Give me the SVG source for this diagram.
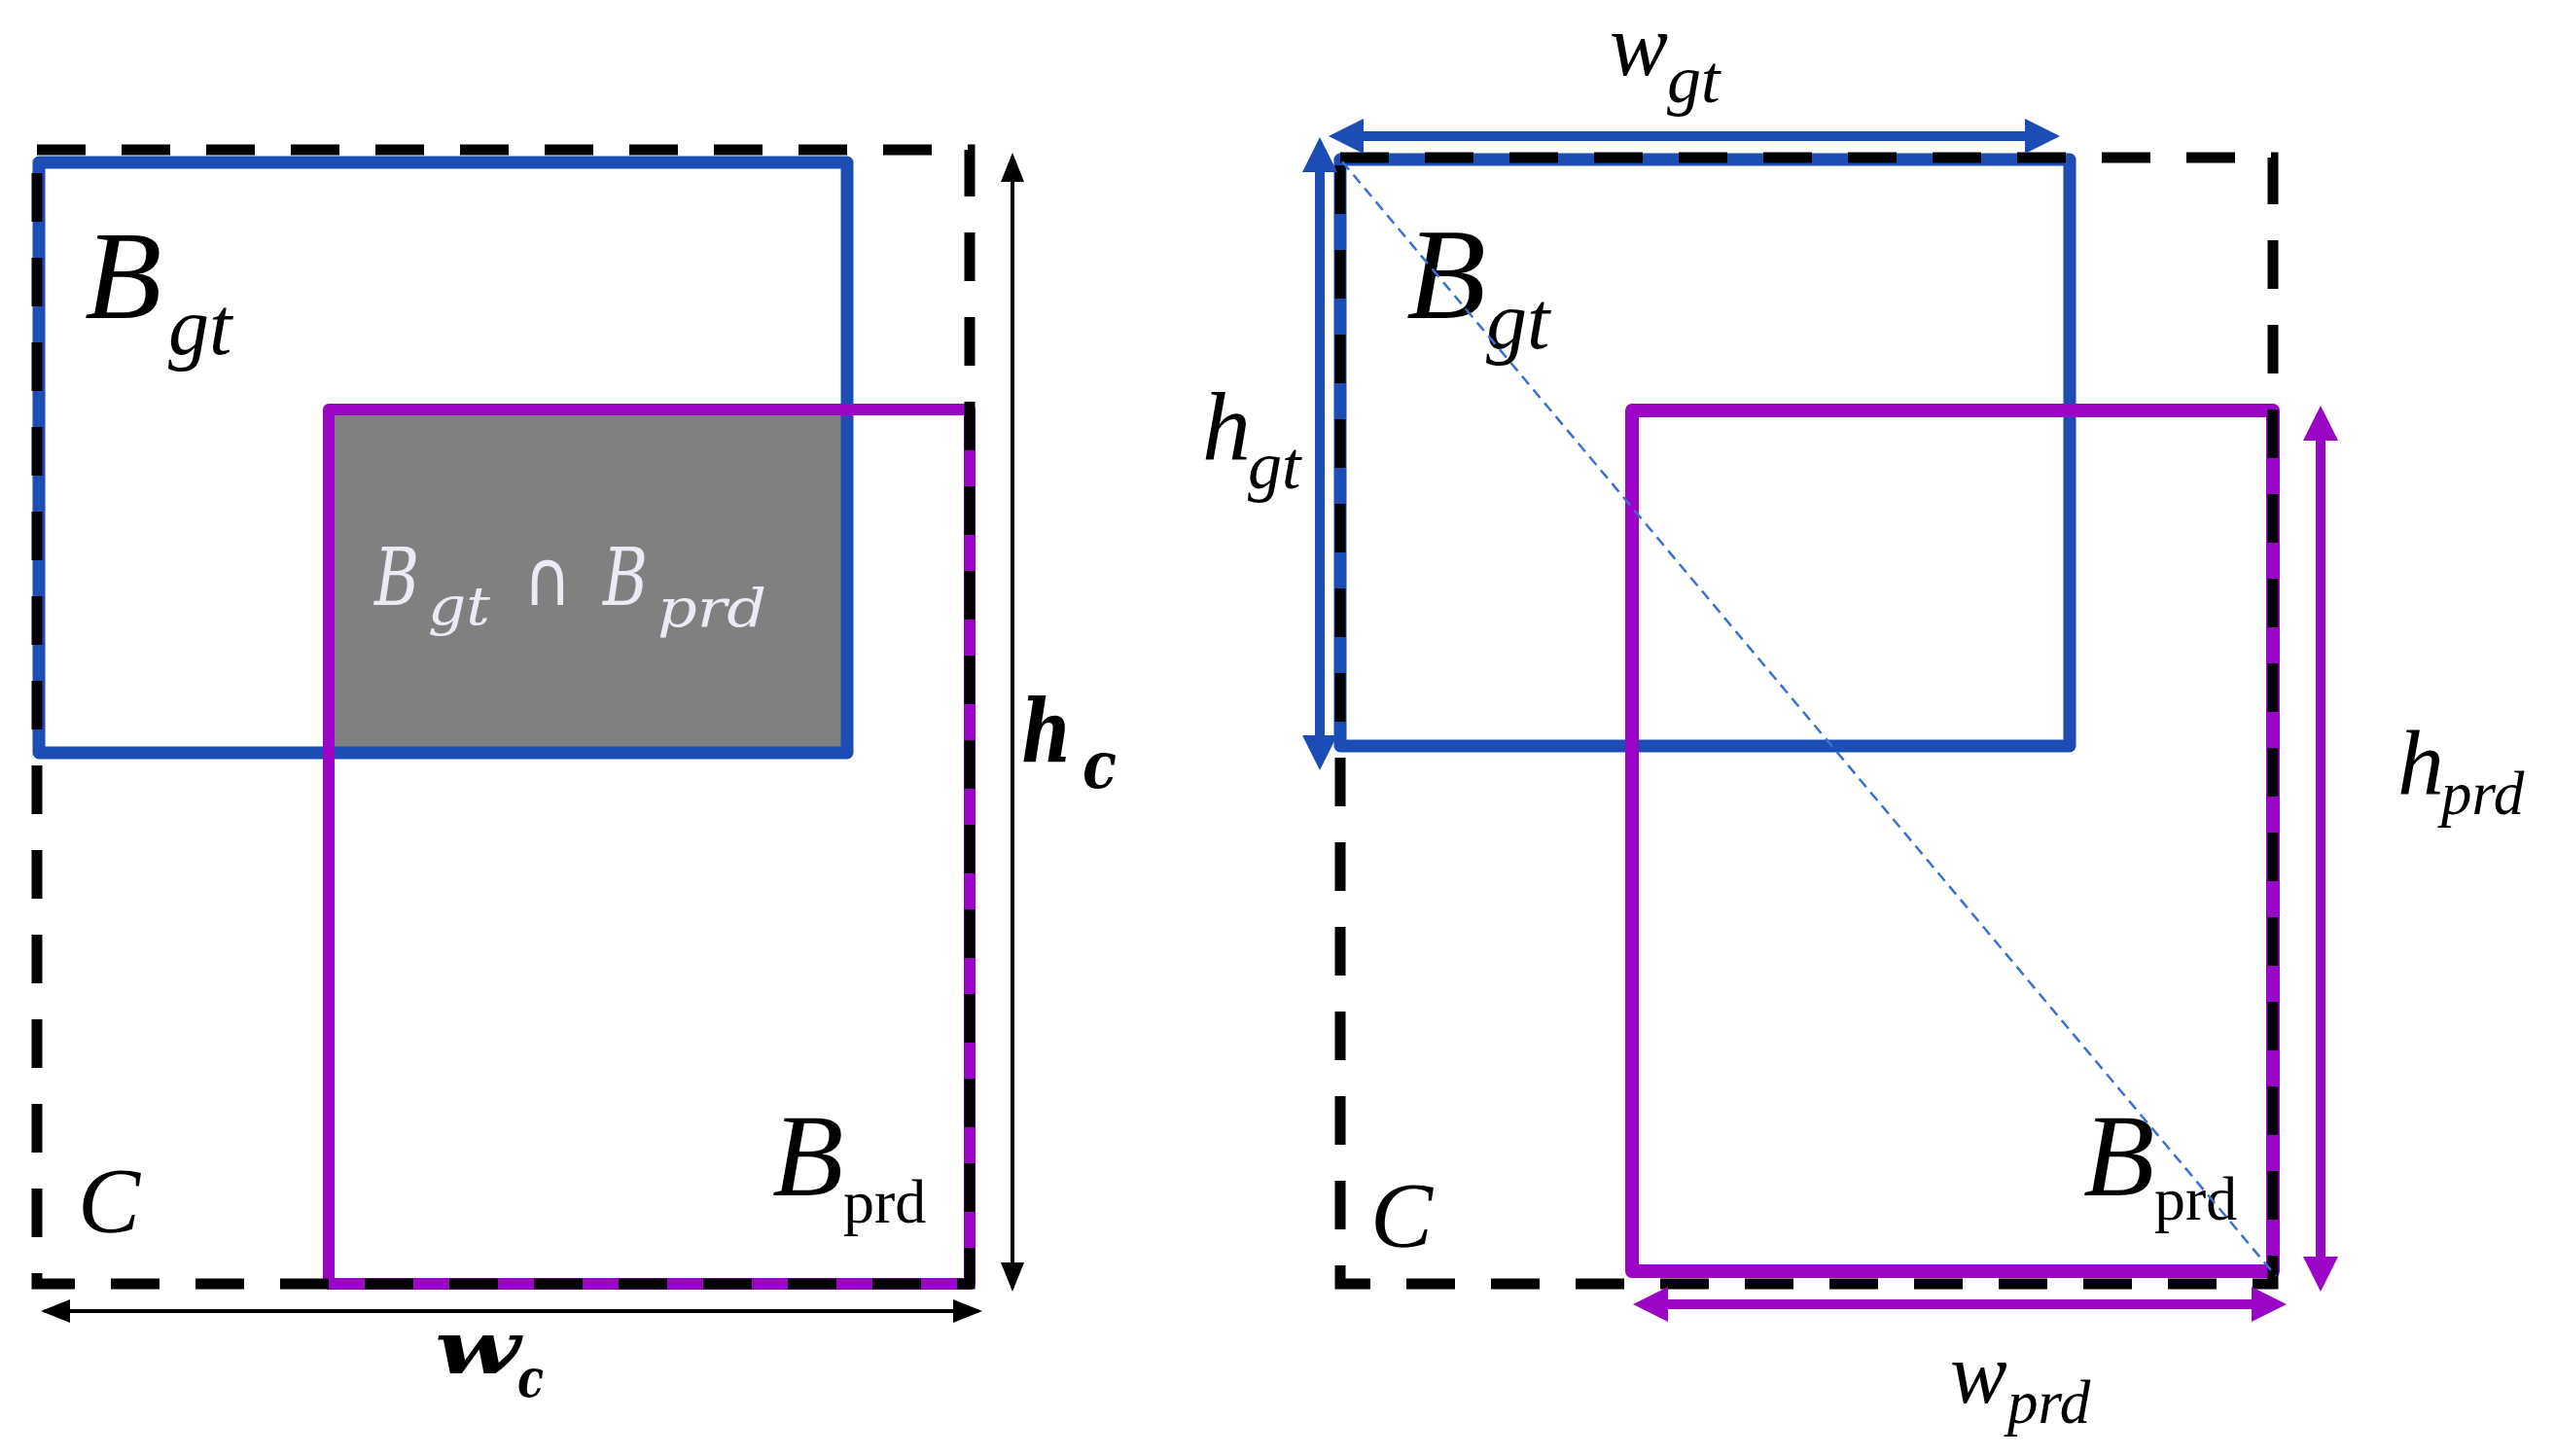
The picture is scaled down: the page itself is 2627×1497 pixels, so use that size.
<svg xmlns="http://www.w3.org/2000/svg" width="2627" height="1497" viewBox="0 0 2627 1497">
<style>
.bg{fill:#ffffff}
.cbox{fill:none;stroke:#000;stroke-width:11;stroke-dasharray:50 37}
.blue{fill:none;stroke:#1b4db5;stroke-width:13;stroke-linejoin:round;stroke-linecap:round}
.purple{fill:none;stroke:#9b05c6;stroke-width:12;stroke-linejoin:round;stroke-linecap:round}
.purpleT{fill:none;stroke:#9b05c6;stroke-width:14;stroke-linejoin:round;stroke-linecap:round}
.inter{fill:#808080}
.ti{font-family:"Liberation Serif","Times New Roman",serif;font-style:italic;fill:#000}
.tu{font-family:"Liberation Serif","Times New Roman",serif;fill:#000}
.cm{font-family:"DejaVu Serif",serif;font-style:italic;fill:#ebebf5}
.cmb{font-family:"DejaVu Serif",serif;font-style:italic;font-weight:bold;fill:#000}
.arrK{stroke:#000;stroke-width:4;fill:none}
.arrB{stroke:#1b4db5;stroke-width:10;fill:none}
.arrP{stroke:#9b05c6;stroke-width:10;fill:none}
.diag{stroke:#3b6fd6;stroke-width:2.5;stroke-dasharray:11 7;fill:none}
</style>
<defs>
<marker id="mK" markerUnits="userSpaceOnUse" markerWidth="32" markerHeight="26" refX="26" refY="12" orient="auto-start-reverse"><path d="M0,0 L30,12 L0,24 z" fill="#000"/></marker>
<marker id="mB" markerUnits="userSpaceOnUse" markerWidth="38" markerHeight="38" refX="24" refY="18" orient="auto-start-reverse"><path d="M0,0 L36,18 L0,36 z" fill="#1b4db5"/></marker>
<marker id="mP" markerUnits="userSpaceOnUse" markerWidth="38" markerHeight="38" refX="24" refY="18" orient="auto-start-reverse"><path d="M0,0 L36,18 L0,36 z" fill="#9b05c6"/></marker>
</defs>
<rect class="bg" x="0" y="0" width="2627" height="1497"/>

<!-- Left panel -->
<g id="left-intersection">
<rect class="inter" x="338" y="421" width="533" height="353"/>
<text class="cm" x="385" y="622" font-size="82" textLength="46" lengthAdjust="spacingAndGlyphs">B</text>
<text class="cm" x="440" y="642" font-size="54" textLength="64" lengthAdjust="spacingAndGlyphs">gt</text>
<text x="538" y="622" font-size="80" textLength="50" lengthAdjust="spacingAndGlyphs" style="font-family:'DejaVu Sans',sans-serif;fill:#ebebf5">∩</text>
<text class="cm" x="620" y="622" font-size="82" textLength="46" lengthAdjust="spacingAndGlyphs">B</text>
<text class="cm" x="676" y="644" font-size="54" textLength="112" lengthAdjust="spacingAndGlyphs">prd</text>
</g>
<g id="left-bgt">
<rect class="blue" x="40" y="167" width="831" height="607"/>
<text class="ti" x="87" y="327" font-size="130">B</text>
<text class="ti" x="173" y="364" font-size="84">gt</text>
</g>
<g id="left-bprd">
<rect class="purple" x="338" y="421" width="659" height="899"/>
<text class="ti" x="794" y="1229" font-size="120">B</text>
<text class="tu" x="867" y="1257" font-size="64">prd</text>
</g>
<g id="left-c">
<rect class="cbox" x="38" y="154" width="959" height="1166"/>
<text class="ti" x="80" y="1267" font-size="96">C</text>
</g>
<g id="left-connectors">
<line class="arrK" x1="1041" y1="161" x2="1041" y2="1324" marker-start="url(#mK)" marker-end="url(#mK)"/>
<line class="arrK" x1="46" y1="1348" x2="1006" y2="1348" marker-start="url(#mK)" marker-end="url(#mK)"/>
</g>
<g id="left-labels">
<text class="cmb" x="447" y="1412" font-size="74" textLength="88" lengthAdjust="spacingAndGlyphs">w</text>
<text class="cmb" x="532" y="1436" font-size="54" textLength="27" lengthAdjust="spacingAndGlyphs">c</text>
<text class="cmb" x="1050" y="783" font-size="90" textLength="52" lengthAdjust="spacingAndGlyphs">h</text>
<text class="cmb" x="1113" y="810" font-size="68" textLength="35" lengthAdjust="spacingAndGlyphs">c</text>
</g>

<!-- Right panel -->
<g id="right-bgt">
<rect class="blue" x="1378" y="164" width="750" height="603"/>
<text class="ti" x="1446" y="327" font-size="134">B</text>
<text class="ti" x="1528" y="358" font-size="84">gt</text>
</g>
<g id="right-bprd">
<rect class="purpleT" x="1678" y="422" width="659" height="885"/>
<text class="ti" x="2142" y="1229" font-size="120">B</text>
<text class="tu" x="2215" y="1254" font-size="64">prd</text>
</g>
<g id="right-c">
<rect class="cbox" x="1378" y="162" width="959" height="1158"/>
<text class="ti" x="1409" y="1282" font-size="96">C</text>
</g>
<g id="right-connectors">
<line class="diag" x1="1380" y1="166" x2="2340" y2="1312"/>
<line class="arrB" x1="1378" y1="140" x2="2106" y2="140" marker-start="url(#mB)" marker-end="url(#mB)"/>
<line class="arrB" x1="1357" y1="153" x2="1357" y2="780" marker-start="url(#mB)" marker-end="url(#mB)"/>
<line class="arrP" x1="2386" y1="429" x2="2386" y2="1316" marker-start="url(#mP)" marker-end="url(#mP)"/>
<line class="arrP" x1="1691" y1="1341" x2="2339" y2="1341" marker-start="url(#mP)" marker-end="url(#mP)"/>
</g>
<g id="right-labels">
<text class="ti" x="1655" y="77" font-size="90">w</text>
<text class="ti" x="1714" y="105" font-size="70">gt</text>
<text class="ti" x="1236" y="472" font-size="100">h</text>
<text class="ti" x="1283" y="502" font-size="70">gt</text>
<text class="ti" x="2465" y="817" font-size="96">h</text>
<text class="ti" x="2510" y="837" font-size="63">prd</text>
<text class="ti" x="2005" y="1442" font-size="88">w</text>
<text class="ti" x="2064" y="1463" font-size="63">prd</text>
</g>
</svg>
